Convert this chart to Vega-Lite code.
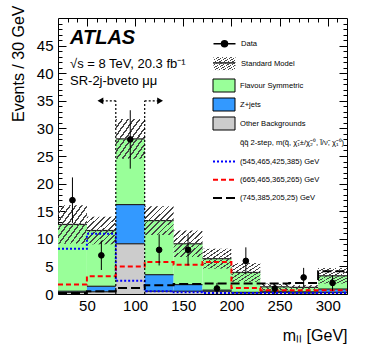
{
  "$schema": "https://vega.github.io/schema/vega-lite/v6.json",
  "width": 289,
  "height": 276,
  "autosize": {"type": "none"},
  "padding": {"left": 58, "top": 18, "right": 19, "bottom": 57},
  "background": "white",
  "config": {
    "font": "Liberation Sans",
    "view": {"stroke": "black", "strokeWidth": 1},
    "axis": {"grid": false, "domain": false, "tickColor": "black", "labelColor": "black", "titleColor": "black", "tickWidth": 1, "labelFlush": false, "labelOverlap": false},
    "legend": {"labelFont": "Liberation Sans", "labelFontSize": 7.6, "labelColor": "black", "labelLimit": 300, "symbolSize": 400, "padding": 0}
  },
  "title": {
    "text": "ATLAS",
    "subtitle": ["√s = 8 TeV, 20.3 fb⁻¹", "SR-2j-bveto μμ"],
    "anchor": "start",
    "frame": "group",
    "orient": "top",
    "offset": -83,
    "dx": 12,
    "font": "Liberation Sans",
    "fontSize": 20,
    "fontStyle": "italic",
    "fontWeight": "bold",
    "color": "black",
    "subtitleFont": "Liberation Sans",
    "subtitleFontSize": 13,
    "subtitleColor": "black",
    "subtitlePadding": 10,
    "subtitleLineHeight": 17
  },
  "datasets": {
    "comps": [
      {"lo": 20, "hi": 50, "comp": "Other Backgrounds", "v": 0.3},
      {"lo": 20, "hi": 50, "comp": "Z+jets", "v": 0.2},
      {"lo": 20, "hi": 50, "comp": "Flavour Symmetric", "v": 12.1},
      {"lo": 50, "hi": 80, "comp": "Other Backgrounds", "v": 0.4},
      {"lo": 50, "hi": 80, "comp": "Z+jets", "v": 1.0},
      {"lo": 50, "hi": 80, "comp": "Flavour Symmetric", "v": 10.1},
      {"lo": 80, "hi": 110, "comp": "Other Backgrounds", "v": 9.1},
      {"lo": 80, "hi": 110, "comp": "Z+jets", "v": 7.1},
      {"lo": 80, "hi": 110, "comp": "Flavour Symmetric", "v": 11.9},
      {"lo": 110, "hi": 140, "comp": "Other Backgrounds", "v": 0.5},
      {"lo": 110, "hi": 140, "comp": "Z+jets", "v": 3.0},
      {"lo": 110, "hi": 140, "comp": "Flavour Symmetric", "v": 9.8},
      {"lo": 140, "hi": 170, "comp": "Other Backgrounds", "v": 0.5},
      {"lo": 140, "hi": 170, "comp": "Z+jets", "v": 1.2},
      {"lo": 140, "hi": 170, "comp": "Flavour Symmetric", "v": 7.4},
      {"lo": 170, "hi": 200, "comp": "Other Backgrounds", "v": 0.5},
      {"lo": 170, "hi": 200, "comp": "Z+jets", "v": 0.2},
      {"lo": 170, "hi": 200, "comp": "Flavour Symmetric", "v": 5.7},
      {"lo": 200, "hi": 230, "comp": "Other Backgrounds", "v": 0.2},
      {"lo": 200, "hi": 230, "comp": "Z+jets", "v": 0.1},
      {"lo": 200, "hi": 230, "comp": "Flavour Symmetric", "v": 3.6},
      {"lo": 230, "hi": 260, "comp": "Other Backgrounds", "v": 0.3},
      {"lo": 230, "hi": 260, "comp": "Z+jets", "v": 0.2},
      {"lo": 230, "hi": 260, "comp": "Flavour Symmetric", "v": 0.8},
      {"lo": 260, "hi": 290, "comp": "Other Backgrounds", "v": 0.2},
      {"lo": 260, "hi": 290, "comp": "Z+jets", "v": 0.2},
      {"lo": 260, "hi": 290, "comp": "Flavour Symmetric", "v": 0.8},
      {"lo": 290, "hi": 320, "comp": "Other Backgrounds", "v": 0.3},
      {"lo": 290, "hi": 320, "comp": "Z+jets", "v": 0.6},
      {"lo": 290, "hi": 320, "comp": "Flavour Symmetric", "v": 2.4}
    ],
    "band": [
      {"lo": 20, "hi": 50, "smlo": 9.1, "smhi": 16.1},
      {"lo": 50, "hi": 80, "smlo": 9.0, "smhi": 14.0},
      {"lo": 80, "hi": 110, "smlo": 24.5, "smhi": 31.7},
      {"lo": 110, "hi": 140, "smlo": 10.7, "smhi": 15.9},
      {"lo": 140, "hi": 170, "smlo": 6.7, "smhi": 11.5},
      {"lo": 170, "hi": 200, "smlo": 4.6, "smhi": 8.2},
      {"lo": 200, "hi": 230, "smlo": 2.2, "smhi": 5.6},
      {"lo": 230, "hi": 260, "smlo": 0.7, "smhi": 1.9},
      {"lo": 260, "hi": 290, "smlo": 0.8, "smhi": 1.6},
      {"lo": 290, "hi": 320, "smlo": 1.9, "smhi": 4.7}
    ],
    "obs": [
      {"c": 35, "n": 17, "lo": 12.88, "hi": 21.12},
      {"c": 65, "n": 7, "lo": 4.35, "hi": 9.65},
      {"c": 95, "n": 28, "lo": 22.71, "hi": 33.29},
      {"c": 125, "n": 8, "lo": 5.17, "hi": 10.83},
      {"c": 155, "n": 8, "lo": 5.17, "hi": 10.83},
      {"c": 185, "n": 1, "lo": 0, "hi": 2},
      {"c": 215, "n": 6, "lo": 3.55, "hi": 8.45},
      {"c": 245, "n": 1, "lo": 0, "hi": 2},
      {"c": 275, "n": 3, "lo": 1.27, "hi": 4.73},
      {"c": 305, "n": 2, "lo": 0.59, "hi": 3.41}
    ],
    "signals": [
      {"model": "(545,465,425,385) GeV", "x": 20, "y": 8.2},
      {"model": "(545,465,425,385) GeV", "x": 50, "y": 10.9},
      {"model": "(545,465,425,385) GeV", "x": 80, "y": 2.4},
      {"model": "(545,465,425,385) GeV", "x": 110, "y": 0.5},
      {"model": "(545,465,425,385) GeV", "x": 140, "y": 0.3},
      {"model": "(545,465,425,385) GeV", "x": 170, "y": 0.2},
      {"model": "(545,465,425,385) GeV", "x": 200, "y": 0.2},
      {"model": "(545,465,425,385) GeV", "x": 230, "y": 0.2},
      {"model": "(545,465,425,385) GeV", "x": 260, "y": 0.2},
      {"model": "(545,465,425,385) GeV", "x": 290, "y": 0.2},
      {"model": "(545,465,425,385) GeV", "x": 320, "y": 0.2},
      {"model": "(665,465,365,265) GeV", "x": 20, "y": 1.7},
      {"model": "(665,465,365,265) GeV", "x": 50, "y": 3.2},
      {"model": "(665,465,365,265) GeV", "x": 80, "y": 5.0},
      {"model": "(665,465,365,265) GeV", "x": 110, "y": 5.8},
      {"model": "(665,465,365,265) GeV", "x": 140, "y": 5.3},
      {"model": "(665,465,365,265) GeV", "x": 170, "y": 5.8},
      {"model": "(665,465,365,265) GeV", "x": 200, "y": 1.1},
      {"model": "(665,465,365,265) GeV", "x": 230, "y": 0.7},
      {"model": "(665,465,365,265) GeV", "x": 260, "y": 0.7},
      {"model": "(665,465,365,265) GeV", "x": 290, "y": 0.7},
      {"model": "(665,465,365,265) GeV", "x": 320, "y": 0.7},
      {"model": "(745,385,205,25) GeV", "x": 20, "y": 0.2},
      {"model": "(745,385,205,25) GeV", "x": 50, "y": 0.5},
      {"model": "(745,385,205,25) GeV", "x": 80, "y": 1.1},
      {"model": "(745,385,205,25) GeV", "x": 110, "y": 1.6},
      {"model": "(745,385,205,25) GeV", "x": 140, "y": 1.8},
      {"model": "(745,385,205,25) GeV", "x": 170, "y": 1.9},
      {"model": "(745,385,205,25) GeV", "x": 200, "y": 1.9},
      {"model": "(745,385,205,25) GeV", "x": 230, "y": 1.9},
      {"model": "(745,385,205,25) GeV", "x": 260, "y": 2.0},
      {"model": "(745,385,205,25) GeV", "x": 290, "y": 4.1},
      {"model": "(745,385,205,25) GeV", "x": 320, "y": 4.1}
    ],
    "cuts": [
      {"x": 80, "y": 0, "x2": 80, "y2": 35},
      {"x": 80, "y": 35, "x2": 64, "y2": 35},
      {"x": 110, "y": 0, "x2": 110, "y2": 35},
      {"x": 110, "y": 35, "x2": 126, "y2": 35}
    ],
    "arrows": [
      {"x": 64, "y": 35, "dir": "left"},
      {"x": 126, "y": 35, "dir": "right"}
    ]
  },
  "layer": [
    {
      "data": {"name": "comps"},
      "transform": [{"stack": "v", "groupby": ["lo"], "as": ["v0", "v1"]}],
      "mark": {"type": "rect"},
      "encoding": {
        "x": {"field": "lo", "type": "quantitative", "scale": {"domain": [20, 320], "nice": false, "zero": false},
          "axis": {"orient": "bottom", "values": [50, 100, 150, 200, 250, 300], "tickSize": -8, "labelPadding": 12, "labelFontSize": 15,
            "title": "mₗₗ [GeV]", "titleFontSize": 16, "titleFontWeight": "normal", "titleAlign": "right", "titleBaseline": "alphabetic", "titleX": 289, "titleY": 46}},
        "x2": {"field": "hi"},
        "y": {"field": "v1", "type": "quantitative", "scale": {"domain": [0, 50], "nice": false, "zero": false},
          "axis": {"orient": "left", "values": [0, 5, 10, 15, 20, 25, 30, 35, 40, 45], "tickSize": -8, "labelPadding": 13, "labelFontSize": 15,
            "title": "Events / 30 GeV", "titleFontSize": 16, "titleFontWeight": "normal", "titleAngle": -90, "titleAlign": "right", "titleBaseline": "alphabetic", "titleX": -35, "titleY": -13}},
        "y2": {"field": "v0"},
        "color": {
          "field": "comp", "type": "nominal",
          "scale": {"domain": ["Flavour Symmetric", "Z+jets", "Other Backgrounds"], "range": ["#99ff99", "#3399ff", "#cccccc"]},
          "legend": {"orient": "none", "legendX": 155.5, "legendY": 57, "title": null, "rowPadding": -1.1, "labelOffset": 5.5,
            "symbolType": "M-1.1,-0.65H1.1V0.65H-1.1Z", "symbolStrokeColor": "black", "symbolStrokeWidth": 1, "symbolOpacity": 1}
        }
      }
    },
    {
      "data": {"name": "comps"},
      "transform": [{"stack": "v", "groupby": ["lo"], "as": ["v0", "v1"]}],
      "mark": {"type": "rule", "color": "#222222", "strokeWidth": 1.2},
      "encoding": {
        "x": {"field": "lo", "type": "quantitative", "scale": {"domain": [20, 320], "nice": false, "zero": false},
          "axis": {"orient": "bottom", "values": [30, 40, 50, 60, 70, 80, 90, 100, 110, 120, 130, 140, 150, 160, 170, 180, 190, 200, 210, 220, 230, 240, 250, 260, 270, 280, 290, 300, 310], "tickSize": -4, "labels": false, "title": null}},
        "x2": {"field": "hi"},
        "y": {"field": "v1", "type": "quantitative", "scale": {"domain": [0, 50], "nice": false, "zero": false},
          "axis": {"orient": "left", "values": [1, 2, 3, 4, 5, 6, 7, 8, 9, 10, 11, 12, 13, 14, 15, 16, 17, 18, 19, 20, 21, 22, 23, 24, 25, 26, 27, 28, 29, 30, 31, 32, 33, 34, 35, 36, 37, 38, 39, 40, 41, 42, 43, 44, 45, 46, 47, 48, 49], "tickSize": -4, "labels": false, "title": null}},
        "opacity": {"datum": "SM line", "type": "nominal", "scale": {"type": "ordinal", "domain": ["SM line"], "range": [1]},
          "legend": {"orient": "none", "legendX": 155, "legendY": 33.9, "title": null, "labelExpr": "''", "symbolType": "M-1.1,0H1.1"}}
      }
    },
    {
      "data": {"name": "band"},
      "mark": {"type": "rect", "fill": {"gradient": "linear", "x1": 0, "y1": 0, "x2": 1, "y2": 1, "stops": [
        {"offset": 0, "color": "#444444"}, {"offset": 0.03, "color": "#444444"}, {"offset": 0.03, "color": "rgba(255,255,255,0)"}, {"offset": 0.1, "color": "rgba(255,255,255,0)"},
        {"offset": 0.1, "color": "#444444"}, {"offset": 0.13, "color": "#444444"}, {"offset": 0.13, "color": "rgba(255,255,255,0)"}, {"offset": 0.2, "color": "rgba(255,255,255,0)"},
        {"offset": 0.2, "color": "#444444"}, {"offset": 0.23, "color": "#444444"}, {"offset": 0.23, "color": "rgba(255,255,255,0)"}, {"offset": 0.3, "color": "rgba(255,255,255,0)"},
        {"offset": 0.3, "color": "#444444"}, {"offset": 0.33, "color": "#444444"}, {"offset": 0.33, "color": "rgba(255,255,255,0)"}, {"offset": 0.4, "color": "rgba(255,255,255,0)"},
        {"offset": 0.4, "color": "#444444"}, {"offset": 0.43, "color": "#444444"}, {"offset": 0.43, "color": "rgba(255,255,255,0)"}, {"offset": 0.5, "color": "rgba(255,255,255,0)"},
        {"offset": 0.5, "color": "#444444"}, {"offset": 0.53, "color": "#444444"}, {"offset": 0.53, "color": "rgba(255,255,255,0)"}, {"offset": 0.6, "color": "rgba(255,255,255,0)"},
        {"offset": 0.6, "color": "#444444"}, {"offset": 0.63, "color": "#444444"}, {"offset": 0.63, "color": "rgba(255,255,255,0)"}, {"offset": 0.7, "color": "rgba(255,255,255,0)"},
        {"offset": 0.7, "color": "#444444"}, {"offset": 0.73, "color": "#444444"}, {"offset": 0.73, "color": "rgba(255,255,255,0)"}, {"offset": 0.8, "color": "rgba(255,255,255,0)"},
        {"offset": 0.8, "color": "#444444"}, {"offset": 0.83, "color": "#444444"}, {"offset": 0.83, "color": "rgba(255,255,255,0)"}, {"offset": 0.9, "color": "rgba(255,255,255,0)"},
        {"offset": 0.9, "color": "#444444"}, {"offset": 0.93, "color": "#444444"}, {"offset": 0.93, "color": "rgba(255,255,255,0)"}, {"offset": 1, "color": "rgba(255,255,255,0)"}
      ]}},
      "encoding": {
        "x": {"field": "lo", "type": "quantitative", "scale": {"domain": [20, 320], "nice": false, "zero": false},
          "axis": {"orient": "top", "values": [50, 100, 150, 200, 250, 300], "tickSize": -8, "labels": false, "title": null}},
        "x2": {"field": "hi"},
        "y": {"field": "smlo", "type": "quantitative", "scale": {"domain": [0, 50], "nice": false, "zero": false},
          "axis": {"orient": "right", "values": [0, 5, 10, 15, 20, 25, 30, 35, 40, 45], "tickSize": -8, "labels": false, "title": null}},
        "y2": {"field": "smhi"},
        "opacity": {"datum": "Standard Model", "type": "nominal", "scale": {"type": "ordinal", "domain": ["Standard Model"], "range": [1]},
          "legend": {"orient": "none", "legendX": 155.5, "legendY": 34.6, "title": null, "labelOffset": 5.5, "symbolType": "M-1.1,-0.65H1.1V0.65H-1.1Z"}}
      }
    },
    {
      "data": {"name": "signals"},
      "mark": {"type": "line", "interpolate": "step-after", "strokeWidth": 2},
      "encoding": {
        "x": {"field": "x", "type": "quantitative", "scale": {"domain": [20, 320], "nice": false, "zero": false},
          "axis": {"orient": "top", "values": [30, 40, 50, 60, 70, 80, 90, 100, 110, 120, 130, 140, 150, 160, 170, 180, 190, 200, 210, 220, 230, 240, 250, 260, 270, 280, 290, 300, 310], "tickSize": -4, "labels": false, "title": null}},
        "y": {"field": "y", "type": "quantitative", "scale": {"domain": [0, 50], "nice": false, "zero": false},
          "axis": {"orient": "right", "values": [1, 2, 3, 4, 5, 6, 7, 8, 9, 10, 11, 12, 13, 14, 15, 16, 17, 18, 19, 20, 21, 22, 23, 24, 25, 26, 27, 28, 29, 30, 31, 32, 33, 34, 35, 36, 37, 38, 39, 40, 41, 42, 43, 44, 45, 46, 47, 48, 49], "tickSize": -4, "labels": false, "title": null}},
        "stroke": {
          "field": "model", "type": "nominal",
          "scale": {"domain": ["q̃q̃ 2-step, m(q̃, χ̃₁±/χ̃₂⁰, l̃/ν̃, χ̃₁⁰)", "(545,465,425,385) GeV", "(665,465,365,265) GeV", "(745,385,205,25) GeV"], "range": ["rgba(0,0,0,0)", "#0000ff", "#ff0000", "#000000"]},
          "legend": {"orient": "none", "legendX": 155, "legendY": 114.3, "title": null, "rowPadding": 3.2, "labelOffset": 5, "symbolType": "M-1.1,0H1.1", "symbolStrokeWidth": 2}
        },
        "strokeDash": {
          "field": "model", "type": "nominal",
          "scale": {"domain": ["q̃q̃ 2-step, m(q̃, χ̃₁±/χ̃₂⁰, l̃/ν̃, χ̃₁⁰)", "(545,465,425,385) GeV", "(665,465,365,265) GeV", "(745,385,205,25) GeV"], "range": [[1, 0], [2, 2], [5, 3], [9, 4]]},
          "legend": {"orient": "none", "legendX": 155, "legendY": 114.3, "title": null, "rowPadding": 3.2, "labelOffset": 5, "symbolType": "M-1.1,0H1.1", "symbolStrokeWidth": 2}
        }
      }
    },
    {
      "data": {"name": "cuts"},
      "mark": {"type": "rule", "color": "black", "strokeWidth": 1.2, "strokeDash": [2, 2]},
      "encoding": {
        "x": {"field": "x", "type": "quantitative", "scale": {"domain": [20, 320], "nice": false, "zero": false}, "axis": null},
        "x2": {"field": "x2"},
        "y": {"field": "y", "type": "quantitative", "scale": {"domain": [0, 50], "nice": false, "zero": false}, "axis": null},
        "y2": {"field": "y2"}
      }
    },
    {
      "data": {"name": "arrows"},
      "mark": {"type": "point", "filled": true, "color": "black", "size": 45, "opacity": 1},
      "encoding": {
        "x": {"field": "x", "type": "quantitative", "scale": {"domain": [20, 320], "nice": false, "zero": false}, "axis": null},
        "y": {"field": "y", "type": "quantitative", "scale": {"domain": [0, 50], "nice": false, "zero": false}, "axis": null},
        "shape": {"field": "dir", "type": "nominal", "scale": {"domain": ["left", "right"], "range": ["triangle-left", "triangle-right"]}, "legend": null}
      }
    },
    {
      "data": {"name": "obs"},
      "mark": {"type": "rule", "color": "black", "strokeWidth": 1},
      "encoding": {
        "x": {"field": "c", "type": "quantitative", "scale": {"domain": [20, 320], "nice": false, "zero": false}, "axis": null},
        "y": {"field": "lo", "type": "quantitative", "scale": {"domain": [0, 50], "nice": false, "zero": false}, "axis": null},
        "y2": {"field": "hi"}
      }
    },
    {
      "data": {"name": "obs"},
      "mark": {"type": "point", "filled": true, "fill": "black", "stroke": "black", "strokeWidth": 1, "size": 32},
      "encoding": {
        "x": {"field": "c", "type": "quantitative", "scale": {"domain": [20, 320], "nice": false, "zero": false}, "axis": null},
        "y": {"field": "n", "type": "quantitative", "scale": {"domain": [0, 50], "nice": false, "zero": false}, "axis": null},
        "opacity": {"datum": "Data", "type": "nominal", "scale": {"type": "ordinal", "domain": ["Data"], "range": [1]},
          "legend": {"orient": "none", "legendX": 155.5, "legendY": 14.8, "title": null, "labelOffset": 5.5,
            "symbolType": "M-1.1,0H1.1M-0.3,0A0.3,0.3,0,1,1,0.3,0A0.3,0.3,0,1,1,-0.3,0Z"}}
      }
    }
  ],
  "resolve": {"axis": {"x": "independent", "y": "independent"}, "scale": {"opacity": "independent"}}
}
